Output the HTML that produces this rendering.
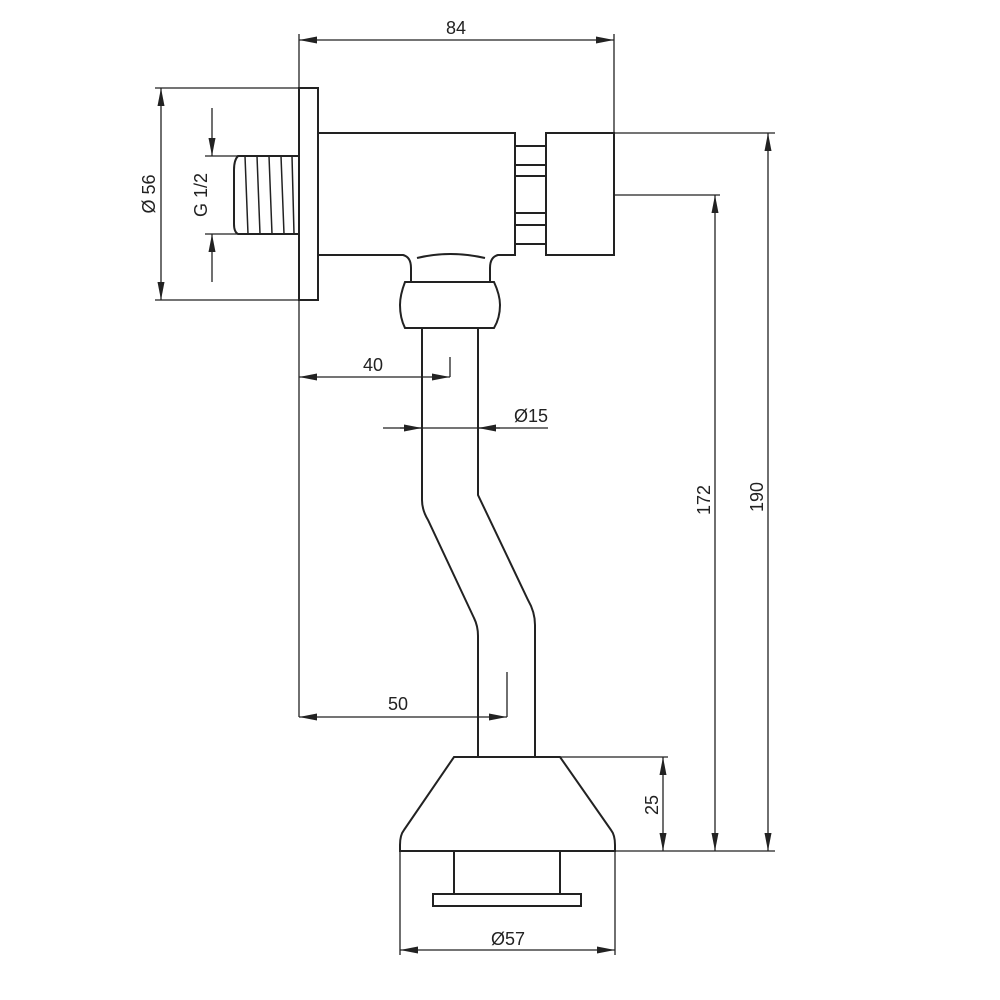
<!DOCTYPE html>
<html><head><style>body{margin:0;background:#fff}svg{display:block}text{font-family:"Liberation Sans",sans-serif;font-size:18px;fill:#222}</style></head><body>
<svg width="1000" height="1000" viewBox="0 0 1000 1000" xmlns="http://www.w3.org/2000/svg">
<defs><marker id="a" viewBox="0 0 18 8" refX="18" refY="4" markerWidth="18" markerHeight="8" markerUnits="userSpaceOnUse" orient="auto-start-reverse"><path d="M0,0.5 L18,4 L0,7.5 z" fill="#222"/></marker></defs>
<g fill="none" stroke="#222" stroke-width="2">
<rect x="299" y="88" width="19" height="212"/>
<path d="M299,156 H238 Q234,160 234,170 V224 Q234,232 238,234 H299"/>
<path d="M245,156 L248,234 M257,156 L260,234 M269,156 L272,234 M281,156 L284,234 M292,156 L294,234" stroke-width="1.5"/>
<path d="M318,133 H515 V255 H498 Q490,257 490,268 V282 M318,255 H403 Q411,257 411,268 V282"/>
<path d="M417,258 Q450,250 485,258"/>
<path d="M515,146 H546 M515,165 H546 M515,176 H546 M515,213 H546 M515,225 H546 M515,244 H546"/>
<rect x="546" y="133" width="68" height="122"/>
<path d="M405,282 H494 Q500,295 500,305 Q500,318 494,328 H405 Q400,318 400,305 Q400,295 405,282 Z"/>
<path d="M422,328 V500 Q422,510 428,520 L474,618 Q478,626 478,636 V757"/>
<path d="M478,328 V495 L528,600 Q535,612 535,625 V757"/>
<path d="M454,757 H560 L611,830 Q615,835 615,845 V851 H400 V845 Q400,835 404,830 Z"/>
<path d="M454,851 V894 M560,851 V894"/>
<rect x="433" y="894" width="148" height="12"/>
</g>
<g fill="none" stroke="#222" stroke-width="1.3">
<path d="M299,34 V88 M299,300 V717 M614,34 V133"/>
<path d="M155,88 H299 M155,300 H318 M205,156 H238 M205,234 H238"/>
<path d="M614,133 H775 M614,195 H720 M560,757 H668 M615,851 H775"/>
<path d="M400,851 V955 M615,851 V955"/>
<path d="M450,357 V377 M507,672 V717 M383,428 H548"/>
<path d="M299,40 H614" marker-start="url(#a)" marker-end="url(#a)"/>
<path d="M161,88 V300" marker-start="url(#a)" marker-end="url(#a)"/>
<path d="M212,108 V156" marker-end="url(#a)"/><path d="M212,282 V234" marker-end="url(#a)"/>
<path d="M299,377 H450" marker-start="url(#a)" marker-end="url(#a)"/>
<path d="M400,428 H422" marker-end="url(#a)"/><path d="M500,428 H478" marker-end="url(#a)"/>
<path d="M299,717 H507" marker-start="url(#a)" marker-end="url(#a)"/>
<path d="M715,195 V851" marker-start="url(#a)" marker-end="url(#a)"/>
<path d="M768,133 V851" marker-start="url(#a)" marker-end="url(#a)"/>
<path d="M663,757 V851" marker-start="url(#a)" marker-end="url(#a)"/>
<path d="M400,950 H615" marker-start="url(#a)" marker-end="url(#a)"/>
</g>
<text x="456" y="34" text-anchor="middle">84</text>
<text x="373" y="371" text-anchor="middle">40</text>
<text x="531" y="422" text-anchor="middle">Ø15</text>
<text x="398" y="710" text-anchor="middle">50</text>
<text x="508" y="945" text-anchor="middle">Ø57</text>
<text transform="translate(155,194) rotate(-90)" text-anchor="middle">Ø 56</text>
<text transform="translate(207,195) rotate(-90)" text-anchor="middle">G 1/2</text>
<text transform="translate(710,500) rotate(-90)" text-anchor="middle">172</text>
<text transform="translate(763,497) rotate(-90)" text-anchor="middle">190</text>
<text transform="translate(658,805) rotate(-90)" text-anchor="middle">25</text>
</svg>
</body></html>
